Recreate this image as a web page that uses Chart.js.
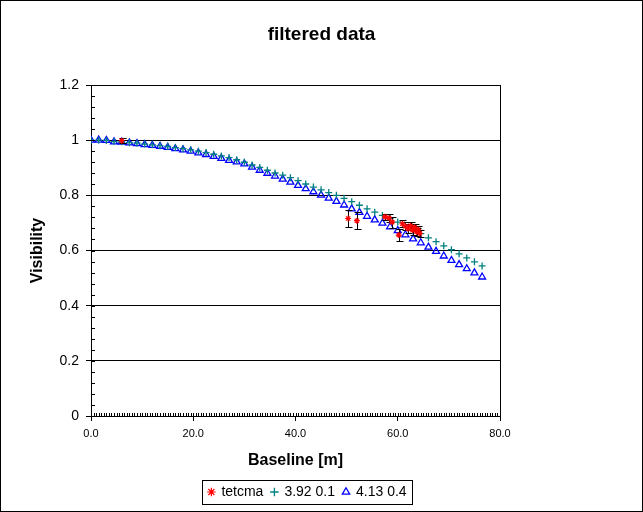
<!DOCTYPE html>
<html>
<head>
<meta charset="utf-8">
<script src="https://cdn.jsdelivr.net/npm/chart.js@4.4.0/dist/chart.umd.min.js"></script>
<style>
  html, body { margin: 0; padding: 0; background: #fff; }
  #wrap { width: 643px; height: 512px; }
</style>
</head>
<body>
<div id="wrap"><canvas id="myChart" width="643" height="512"></canvas></div>
<script>
// baseline positions [m], shared by both model curves
const baseline = [0, 1.5, 3, 4.5, 6, 7.5, 9, 10.5, 12, 13.5, 15, 16.5, 18, 19.5, 21, 22.5,
  24, 25.5, 27, 28.5, 30, 31.5, 33, 34.5, 36, 37.5, 39, 40.5, 42, 43.5, 45, 46.5,
  48, 49.5, 51, 52.5, 54, 55.5, 57, 58.5, 60, 61.5, 63, 64.5, 66, 67.5, 69, 70.5,
  72, 73.5, 75, 76.5]

// "3.92 0.1" model
const vis392 = [1.000, 1.000, 0.999, 0.995, 0.994, 0.991, 0.989, 0.986, 0.983, 0.980,
  0.977, 0.973, 0.969, 0.965, 0.960, 0.955, 0.949, 0.943, 0.937, 0.929, 0.920, 0.910,
  0.901, 0.891, 0.881, 0.873, 0.864, 0.853, 0.841, 0.830, 0.820, 0.810, 0.800, 0.789,
  0.777, 0.764, 0.751, 0.739, 0.727, 0.716, 0.703, 0.690, 0.675, 0.661, 0.646, 0.632,
  0.617, 0.603, 0.588, 0.573, 0.559, 0.544]

// "4.13 0.4" model
const vis413 = [1.000, 1.000, 0.999, 0.994, 0.993, 0.990, 0.988, 0.984, 0.981, 0.978,
  0.974, 0.969, 0.965, 0.960, 0.954, 0.948, 0.941, 0.934, 0.927, 0.921, 0.914, 0.902,
  0.891, 0.880, 0.870, 0.859, 0.848, 0.836, 0.824, 0.813, 0.801, 0.790, 0.778, 0.765,
  0.751, 0.738, 0.724, 0.711, 0.699, 0.686, 0.672, 0.657, 0.642, 0.628, 0.612, 0.597,
  0.580, 0.564, 0.549, 0.534, 0.519, 0.504]

// measured points (tetcma) with +/- errors
const tetX = [6.0, 50.3, 52.0, 57.5, 58.3, 58.9, 60.2, 60.9, 61.5, 62.0, 62.5, 62.9, 63.3, 63.7, 64.0, 64.3]
const tetY = [0.998, 0.716, 0.708, 0.722, 0.718, 0.703, 0.656, 0.697, 0.688, 0.679, 0.690, 0.674, 0.684, 0.667, 0.676, 0.662]
const tetErr = [0.010, 0.030, 0.031, 0.012, 0.013, 0.020, 0.023, 0.012, 0.015, 0.017, 0.014, 0.016, 0.012, 0.015, 0.012, 0.012]

const yTicks = [0, 0.2, 0.4, 0.6, 0.8, 1, 1.2]
const yTickLabels = ['0', '0.2', '0.4', '0.6', '0.8', '1', '1.2']
const xTicks = [0, 20, 40, 60, 80]
const xTickLabels = ['0.0', '20.0', '40.0', '60.0', '80.0']
const xMinorStep = 0.5
const yMinorStep = 0.04

const FONT = "'Liberation Sans', Arial, sans-serif"

const pts = (xs, ys) => xs.map((v, i) => ({x: v, y: ys[i]}))

// white page, outer frame and the box round the legend
const frame = {
  id: 'frame',
  beforeDraw(chart) {
    const ctx = chart.ctx
    ctx.save()
    ctx.fillStyle = '#fff'
    ctx.fillRect(0, 0, chart.width, chart.height)
    ctx.restore()
  },
  afterDraw(chart) {
    const ctx = chart.ctx
    ctx.save()
    ctx.strokeStyle = '#000'
    ctx.lineWidth = 1
    ctx.strokeRect(0.5, 0.5, chart.width - 1, chart.height - 1)
    const hb = chart.legend && chart.legend.legendHitBoxes
    if (hb && hb.length) {
      const l = Math.min(...hb.map(h => h.left)) - 6
      const r = Math.max(...hb.map(h => h.left + h.width)) + 6
      const cy = hb[0].top + hb[0].height / 2
      ctx.strokeRect(Math.round(l) + 0.5, Math.round(cy - 12) + 0.5, Math.round(r - l), 24)
    }
    ctx.restore()
  }
}

// Excel centres its legend a bit left of the title
const shiftLegend = {
  id: 'shiftLegend',
  afterLayout(chart) {
    if (chart.legend) {
      chart.legend.left -= 14
      chart.legend.right -= 14
    }
  }
}

// small inside ticks on both axes
const minorTicks = {
  id: 'minorTicks',
  afterDatasetsDraw(chart) {
    const {ctx, scales: {x, y}} = chart
    ctx.save()
    ctx.strokeStyle = '#000'
    ctx.lineWidth = 1
    ctx.beginPath()
    for (let v = 0; v <= 80.001; v += xMinorStep) {
      const px = Math.round(x.getPixelForValue(v)) + 0.5
      ctx.moveTo(px, y.bottom)
      ctx.lineTo(px, y.bottom - 3)
    }
    for (let v = 0; v <= 1.2001; v += yMinorStep) {
      const py = Math.round(y.getPixelForValue(v)) + 0.5
      ctx.moveTo(x.left, py)
      ctx.lineTo(x.left + 4, py)
    }
    ctx.stroke()
    ctx.restore()
  }
}

// error bars under the red markers
const errorBars = {
  id: 'errorBars',
  beforeDatasetDraw(chart, args) {
    if (args.index !== 0) return
    const {ctx, scales: {x, y}} = chart
    ctx.save()
    ctx.strokeStyle = '#000'
    ctx.lineWidth = 1
    ctx.beginPath()
    tetX.forEach((v, i) => {
      const px = Math.round(x.getPixelForValue(v)) + 0.5
      const top = Math.round(y.getPixelForValue(tetY[i] + tetErr[i])) + 0.5
      const bot = Math.round(y.getPixelForValue(tetY[i] - tetErr[i])) + 0.5
      ctx.moveTo(px, top); ctx.lineTo(px, bot)
      ctx.moveTo(px - 3, top); ctx.lineTo(px + 4, top)
      ctx.moveTo(px - 3, bot); ctx.lineTo(px + 4, bot)
    })
    ctx.stroke()
    ctx.restore()
  }
}

const chart = new Chart('myChart', {
  type: 'scatter',
  data: {
    datasets: [
      {
        label: 'tetcma',
        data: pts(tetX, tetY),
        pointStyle: 'star',
        pointRadius: 3,
        borderColor: '#ff0000',
        backgroundColor: '#ff0000',
        borderWidth: 1.2
      },
      {
        label: '3.92 0.1',
        data: pts(baseline, vis392),
        pointStyle: 'cross',
        pointRadius: 3.5,
        borderColor: '#008080',
        backgroundColor: '#008080',
        borderWidth: 1.3
      },
      {
        label: '4.13 0.4',
        data: pts(baseline, vis413),
        pointStyle: 'triangle',
        pointRadius: 4,
        borderColor: '#0000ff',
        backgroundColor: 'rgba(0,0,0,0)',
        borderWidth: 1.3
      }
    ]
  },
  options: {
    responsive: false,
    animation: false,
    events: [],
    layout: { padding: { top: 0, left: 0, right: 0, bottom: 3 } },
    plugins: {
      tooltip: { enabled: false },
      title: {
        display: true,
        text: 'filtered data',
        color: '#000',
        font: { family: FONT, size: 19, weight: 'bold', lineHeight: 1.2 },
        padding: { top: 23.6, bottom: 38.6 }
      },
      legend: {
        display: true,
        position: 'bottom',
        maxHeight: 36,
        labels: {
          usePointStyle: true,
          boxWidth: 6,
          boxHeight: 6,
          padding: 8,
          color: '#000',
          font: { family: FONT, size: 14 }
        }
      }
    },
    scales: {
      x: {
        type: 'linear',
        min: 0,
        max: 80,
        afterBuildTicks: s => { s.ticks = xTicks.map(v => ({value: v})) },
        ticks: {
          color: '#000',
          font: { family: FONT, size: 11 },
          padding: 6,
          maxRotation: 0,
          autoSkip: false,
          callback: (v) => xTickLabels[xTicks.indexOf(v)]
        },
        grid: {
          color: c => (c.tick && c.tick.value === 80) ? '#000' : 'rgba(0,0,0,0)',
          tickColor: '#000',
          tickLength: 5,
          lineWidth: 1
        },
        border: { color: '#000', width: 1 },
        title: {
          display: true,
          text: 'Baseline [m]',
          color: '#000',
          font: { family: FONT, size: 16, weight: 'bold', lineHeight: 1.2 },
          padding: { top: 0, bottom: 6.4 }
        },
        afterFit: s => { s.height = 61 }
      },
      y: {
        type: 'linear',
        min: 0,
        max: 1.2,
        afterBuildTicks: s => { s.ticks = yTicks.map(v => ({value: v})) },
        ticks: {
          color: '#000',
          font: { family: FONT, size: 14 },
          padding: 7,
          autoSkip: false,
          callback: (v) => yTickLabels[yTicks.findIndex(t => Math.abs(t - v) < 1e-9)]
        },
        grid: { color: '#000', tickColor: '#000', tickLength: 5, lineWidth: 1 },
        border: { color: '#000', width: 1 },
        title: {
          display: true,
          text: 'Visibility',
          color: '#000',
          font: { family: FONT, size: 16, weight: 'bold', lineHeight: 1.2 },
          padding: { top: 28.4, bottom: 0 }
        },
        afterFit: s => { s.width = 91 }
      },
      // empty band on the right, like the Excel plot area
      yR: {
        type: 'linear',
        position: 'right',
        display: true,
        grid: { display: false },
        ticks: { display: false },
        border: { display: false },
        afterFit: s => { s.width = 143 }
      }
    }
  },
  plugins: [frame, shiftLegend, minorTicks, errorBars]
})
</script>
</body>
</html>
